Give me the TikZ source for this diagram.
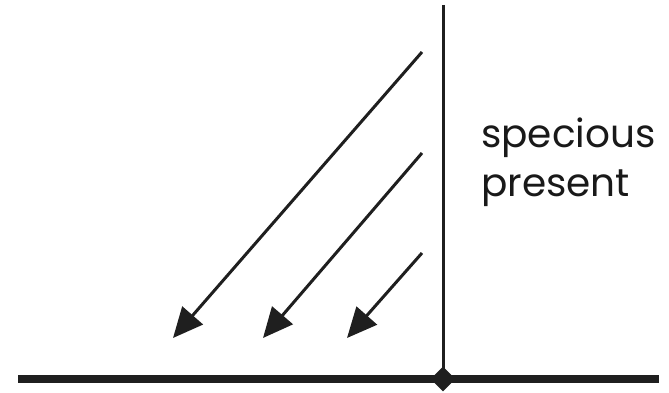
\documentclass[tikz,border=0pt]{standalone}
\usepackage{fontspec}
\setmainfont{Poppins}
\usetikzlibrary{arrows.meta,shapes.geometric}
\begin{document}
\begin{tikzpicture}[x=1pt,y=1pt,
  axis/.style={line width=7.5pt,color=black!88},
  timeline/.style={line width=3pt,color=black!88},
  flow/.style={line width=3pt,color=black!88,-{Triangle[length=30pt,width=27pt]}},
  lbl/.style={anchor=base west,inner sep=0pt,font=\fontsize{39}{44}\selectfont,text=black!90}]
\useasboundingbox (0,0) rectangle (669,392);
\coordinate (L) at (18,13);
\coordinate (R) at (659,13);
\coordinate (T) at (443,387);
\node[diamond,fill=black!88,inner sep=0pt,minimum width=25pt,minimum height=25pt] (D) at (443,13) {};
\draw[axis] (L) -- (R);
\draw[timeline] (T) -- (D.center);
\coordinate (s1) at (422,340);
\coordinate (e1) at (173,54);
\coordinate (s2) at (422,239);
\coordinate (e2) at (263,54);
\coordinate (s3) at (422,139);
\coordinate (e3) at (347,54);
\draw[flow] (s1) -- (e1);
\draw[flow] (s2) -- (e2);
\draw[flow] (s3) -- (e3);
\node[lbl] (sp) at (481,245) {specious};
\node[lbl] (pr) at (481,196) {present};
\end{tikzpicture}
\end{document}
